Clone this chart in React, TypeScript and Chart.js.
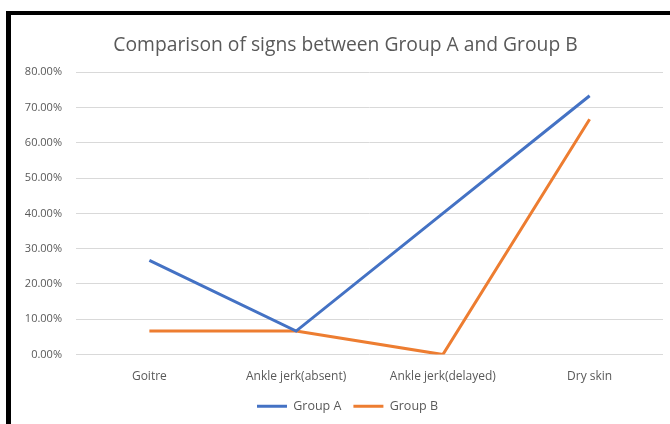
import React, { useEffect, useRef } from "react";
import { Chart, registerables } from "chart.js";

Chart.register(...registerables);

const categories = ["Goitre", "Ankle jerk(absent)", "Ankle jerk(delayed)", "Dry skin"];
const groupA = [0.2667, 0.0667, 0.4, 0.7333];
const groupB = [0.0667, 0.0667, 0.0, 0.6667];
const seriesNames = ["Group A", "Group B"];
const titleText = "Comparison of signs between Group A and Group B";

const FONT = "'Open Sans', Lato, sans-serif";
const TEXT = "#595959";

const TITLE_LEFT_INSET = 28;
const LEGEND_LEFT_INSET = 32;
const LEGEND_SHIFT = -11;

const tweakPlugin = {
  id: "tweakBlocks",
  afterLayout(chart: any) {
    if (chart.titleBlock) chart.titleBlock.left += TITLE_LEFT_INSET;
    if (chart.legend) {
      chart.legend.top += LEGEND_SHIFT;
      chart.legend.bottom += LEGEND_SHIFT;
      chart.legend.left += LEGEND_LEFT_INSET;
    }
  },
};

export default function App() {
  const ref = useRef<HTMLCanvasElement | null>(null);

  useEffect(() => {
    document.body.style.margin = "0";
    const ctx = ref.current!.getContext("2d")!;
    const chart = new Chart(ctx, {
      type: "line",
      data: {
        labels: categories,
        datasets: [
          {
            label: seriesNames[0],
            data: groupA,
            borderColor: "#4472C4",
            backgroundColor: "#4472C4",
            borderWidth: 3,
            pointRadius: 0,
            tension: 0,
          },
          {
            label: seriesNames[1],
            data: groupB,
            borderColor: "#ED7D31",
            backgroundColor: "#ED7D31",
            borderWidth: 3,
            pointRadius: 0,
            tension: 0,
          },
        ],
      },
      plugins: [tweakPlugin],
      options: {
        responsive: false,
        animation: false,
        layout: { padding: { left: 0, right: 7, top: 27, bottom: -1 } },
        plugins: {
          title: {
            display: true,
            text: titleText,
            color: TEXT,
            font: { family: FONT, size: 19.3, weight: "normal" },
            padding: { top: 7, bottom: 15 },
          },
          legend: {
            position: "bottom",
            maxHeight: 26,
            labels: {
              color: TEXT,
              font: { family: FONT, size: 12.5 },
              boxWidth: 30,
              boxHeight: 3,
              padding: 12,
              generateLabels: (c: any) =>
                Chart.defaults.plugins.legend.labels.generateLabels(c).map((l: any) => ({
                  ...l,
                  lineWidth: 0,
                })),
            },
          },
          tooltip: { enabled: false },
        },
        scales: {
          x: {
            offset: true,
            grid: { display: false, drawTicks: false },
            border: { display: false },
            ticks: { color: TEXT, font: { family: FONT, size: 12 }, padding: 15, maxRotation: 0 },
          },
          y: {
            min: 0,
            max: 0.8,
            grid: { color: "#d9d9d9", lineWidth: 1, drawTicks: false },
            border: { display: false },
            ticks: {
              stepSize: 0.1,
              color: TEXT,
              font: { family: FONT, size: 11 },
              padding: 14,
              callback: (v: any) => (Number(v) * 100).toFixed(2) + "%",
            },
            afterFit: (s: any) => {
              s.width = 76;
            },
          },
        },
      },
    });
    return () => chart.destroy();
  }, []);

  return (
    <div style={{ position: "fixed", left: 0, top: 0, width: 670, height: 424, background: "#fff" }}>
      <canvas ref={ref} width={670} height={424} style={{ position: "absolute", left: 0, top: 0 }} />
      <div
        style={{
          position: "absolute",
          left: 6,
          top: 11,
          width: 664,
          height: 413,
          borderLeft: "5px solid #000",
          borderTop: "4px solid #000",
          boxSizing: "border-box",
          pointerEvents: "none",
        }}
      />
    </div>
  );
}
